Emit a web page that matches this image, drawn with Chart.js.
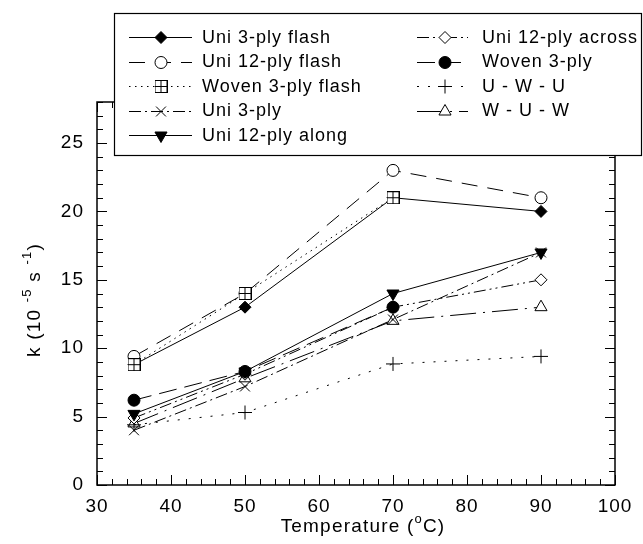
<!DOCTYPE html>
<html>
<head>
<meta charset="utf-8">
<script src="https://cdn.jsdelivr.net/npm/chart.js@4/dist/chart.umd.min.js"></script>
<style>
  html, body { margin: 0; padding: 0; background: #fff; }
  #wrap { width: 643px; height: 544px; }
</style>
</head>
<body>
<div id="wrap"><canvas id="c" width="643" height="544"></canvas></div>
<script>
// temperatures (deg C)
var temps = [35, 50, 70, 90];

// k (10^-5 s^-1)
var uni3Flash   = [8.8, 13, 21, 20];
var uni12Flash  = [9.4, 14, 23, 21];
var woven3Flash = [8.8, 14, 21, null];
var uni3        = [4.0, 7.2, 12.1, 17];
var uni12Along  = [5.2, 8.3, 14, 17];
var uni12Across = [4.9, 8.1, 13, 15];
var woven3      = [6.2, 8.3, 13, null];
var uwu         = [4.4, 5.3, 8.85, 9.4];
var wuw         = [4.5, 7.8, 12, 13];

var xTicks = [30, 40, 50, 60, 70, 80, 90, 100];
var yTicks = [0, 5, 10, 15, 20, 25];

var FONT = '"Liberation Sans", Arial, sans-serif';

/**
 * square with a cross inside (woven 3-ply flash marker)
 */
function gridMarker(size) {
    var cv = document.createElement('canvas');
    cv.width = size; cv.height = size;
    var g = cv.getContext('2d');
    g.fillStyle = '#fff';
    g.fillRect(0.5, 0.5, size - 1, size - 1);
    g.strokeStyle = '#000';
    g.lineWidth = 1;
    g.strokeRect(0.5, 0.5, size - 1, size - 1);
    var m = Math.floor(size / 2) + 0.5;
    g.beginPath();
    g.moveTo(m, 0); g.lineTo(m, size);
    g.moveTo(0, m); g.lineTo(size, m);
    g.stroke();
    return cv;
}
var gridImg = gridMarker(13);

function toXY(ys) {
    var out = [];
    for(var i = 0; i < temps.length; i++) {
        if(ys[i] === null) continue;
        out.push({x: temps[i], y: ys[i]});
    }
    return out;
}

function ds(label, ys, style, fill, dash, radius, rotation, order) {
    return {
        label: label,
        data: toXY(ys),
        borderColor: '#000',
        backgroundColor: fill,
        borderWidth: 1,
        borderDash: dash,
        pointStyle: style,
        pointRadius: radius,
        pointBorderWidth: 1,
        pointBackgroundColor: fill,
        pointBorderColor: '#000',
        pointRotation: rotation || 0,
        order: order || 0,
        tension: 0,
        fill: false,
    };
}

// lower order is drawn on top
var datasets = [
    ds('Uni 3-ply flash',    uni3Flash,   'rectRot',  '#000', [], 6),
    ds('Uni 12-ply flash',   uni12Flash,  'circle',   '#fff', [16, 10], 6),
    ds('Woven 3-ply flash',  woven3Flash, gridImg,    '#fff', [1.5, 4.5], 6, 0, -1),
    ds('Uni 3-ply',          uni3,        'crossRot', '#fff', [12, 4, 2, 4], 7),
    ds('Uni 12-ply along',   uni12Along,  'triangle', '#000', [], 7, 180, -1),
    ds('Uni 12-ply across',  uni12Across, 'rectRot',  '#fff', [12, 4, 2, 4, 2, 4], 6),
    ds('Woven 3-ply',        woven3,      'circle',   '#000', [18, 8], 6, 0, -1),
    ds('U - W - U',          uwu,         'cross',    '#fff', [2, 9], 7),
    ds('W - U - W',          wuw,         'triangle', '#fff', [26, 7, 2, 7], 7),
];

// legend slots: [column, row]
var legendSlots = [[0,0],[0,1],[0,2],[0,3],[0,4],[1,0],[1,1],[1,2],[1,3]];

function drawSup(ctx, parts, cx, baseline, size) {
    var small = Math.round(size * 0.68);
    var w = 0, i;
    for(i = 0; i < parts.length; i++) {
        ctx.font = (parts[i].sup ? small : size) + 'px ' + FONT;
        w += ctx.measureText(parts[i].t).width;
    }
    var x = cx - w / 2;
    ctx.textAlign = 'left';
    ctx.textBaseline = 'alphabetic';
    for(i = 0; i < parts.length; i++) {
        ctx.font = (parts[i].sup ? small : size) + 'px ' + FONT;
        ctx.fillText(parts[i].t, x, parts[i].sup ? baseline - size * 0.45 : baseline);
        x += ctx.measureText(parts[i].t).width;
    }
}

var framePlugin = {
    id: 'frame',
    beforeDraw: function(chart) {
        chart.ctx.letterSpacing = '1px'; // source font is spaced out a bit
    },
    beforeDatasetsDraw: function(chart) {
        var ctx = chart.ctx, a = chart.chartArea;
        var xs = chart.scales.x, ys = chart.scales.y;
        ctx.save();
        ctx.strokeStyle = '#000';
        ctx.lineWidth = 1;
        ctx.setLineDash([]);
        ctx.beginPath();
        var v, p, len;
        // x ticks, every 2, inside on bottom and top
        for(v = 30; v <= 100; v += 2) {
            p = Math.round(xs.getPixelForValue(v)) + 0.5;
            len = (v % 10 == 0) ? 10 : 6;
            ctx.moveTo(p, a.bottom); ctx.lineTo(p, a.bottom - len);
            ctx.moveTo(p, a.top); ctx.lineTo(p, a.top + len);
        }
        // y ticks, every 1, inside on left and right
        for(v = 0; v <= 28; v += 1) {
            p = Math.round(ys.getPixelForValue(v)) + 0.5;
            len = (v % 5 == 0) ? 10 : 6;
            ctx.moveTo(a.left, p); ctx.lineTo(a.left + len, p);
            ctx.moveTo(a.right, p); ctx.lineTo(a.right - len, p);
        }
        ctx.stroke();
        ctx.lineWidth = 1.5;
        ctx.strokeRect(a.left, a.top, a.right - a.left, a.bottom - a.top);
        ctx.restore();
    },
    afterDraw: function(chart) {
        var ctx = chart.ctx;
        ctx.save();
        ctx.fillStyle = '#000';
        ctx.letterSpacing = '1.2px';

        // axis titles with superscripts
        drawSup(ctx, [{t: 'Temperature ('}, {t: 'o', sup: true}, {t: 'C)'}], 363, 532, 19);
        ctx.translate(40, 300);
        ctx.rotate(-Math.PI / 2);
        drawSup(ctx, [{t: 'k (10 '}, {t: '-5', sup: true}, {t: ' s '}, {t: '-1', sup: true}, {t: ')'}],
            0, 0, 19);
        ctx.setTransform(1, 0, 0, 1, 0, 0);

        // legend box on top of the plot
        ctx.fillStyle = '#fff';
        ctx.fillRect(114, 13, 528, 142);
        ctx.strokeStyle = '#000';
        ctx.lineWidth = 1.2;
        ctx.strokeRect(114.5, 13.5, 527, 142);

        var cols = [
            {x0: 129, x1: 192, mx: 161, tx: 202},
            {x0: 417, x1: 468, mx: 445, tx: 482},
        ];
        var rowY = [37, 61.5, 86, 110.5, 135];
        ctx.letterSpacing = '1px';
        chart.data.datasets.forEach(function(d, i) {
            var c = cols[legendSlots[i][0]], y = rowY[legendSlots[i][1]];
            ctx.strokeStyle = '#000';
            ctx.lineWidth = 1;
            ctx.setLineDash(d.borderDash);
            ctx.beginPath();
            ctx.moveTo(c.x0, Math.round(y) + 0.5); ctx.lineTo(c.x1, Math.round(y) + 0.5);
            ctx.stroke();
            ctx.setLineDash([]);
            ctx.fillStyle = d.pointBackgroundColor;
            Chart.helpers.drawPoint(ctx, {
                pointStyle: d.pointStyle,
                radius: d.pointRadius,
                rotation: d.pointRotation,
                borderWidth: 1,
            }, c.mx, Math.round(y) + 0.5);
            ctx.fillStyle = '#000';
            ctx.font = '18px ' + FONT;
            ctx.textAlign = 'left';
            ctx.textBaseline = 'middle';
            ctx.fillText(d.label, c.tx, y + 1);
        });
        ctx.restore();
    }
};

new Chart(document.getElementById('c'), {
    type: 'line',
    data: {datasets: datasets},
    plugins: [framePlugin],
    options: {
        responsive: false,
        animation: false,
        devicePixelRatio: 1,
        layout: {padding: {left: 0, top: 102, right: 28, bottom: 0}},
        plugins: {legend: {display: false}, tooltip: {enabled: false}},
        scales: {
            x: {
                type: 'linear', min: 30, max: 100,
                grid: {display: false, drawTicks: false}, border: {display: false},
                afterBuildTicks: function(s) { s.ticks = xTicks.map(function(v) { return {value: v}; }); },
                afterFit: function(s) { s.height = 59; },
                ticks: {color: '#000', padding: 10, maxRotation: 0, font: {family: FONT, size: 19}},
            },
            y: {
                type: 'linear', min: 0, max: 28,
                grid: {display: false, drawTicks: false}, border: {display: false},
                afterBuildTicks: function(s) { s.ticks = yTicks.map(function(v) { return {value: v}; }); },
                afterFit: function(s) { s.width = 97; },
                ticks: {color: '#000', padding: 13, font: {family: FONT, size: 19}},
            },
        },
    },
});
</script>
</body>
</html>
